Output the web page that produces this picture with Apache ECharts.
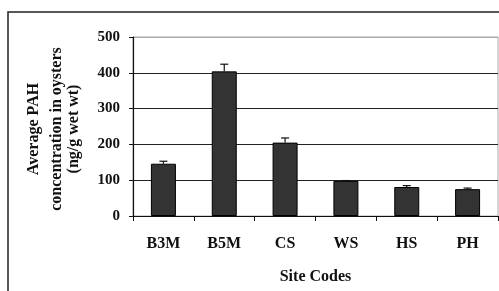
<!DOCTYPE html>
<html>
<head>
<meta charset="utf-8">
<script src="https://cdn.jsdelivr.net/npm/echarts@6/dist/echarts.min.js"></script>
<style>
  html, body { margin: 0; padding: 0; background: #fff; }
  #main { width: 499px; height: 291px; }
</style>
</head>
<body>
<div id="main"></div>
<script>
var sites = ['B3M', 'B5M', 'CS', 'WS', 'HS', 'PH'];
var pahMean = [146, 404, 205, 98, 81, 75];
var pahErr = [7, 20, 13, 1, 4, 3];
var yTicks = [0, 100, 200, 300, 400, 500];

var serif = '"Times New Roman", "Liberation Serif", serif';

var chart = echarts.init(document.getElementById('main'));

// error bars (upper half only, the lower half hides behind the bar)
function renderErr (params, api) {
    var x = api.value(0);
    var top = api.coord([x, api.value(1) + api.value(2)]);
    var base = api.coord([x, api.value(1)]);
    var cap = 4;
    var style = { stroke: '#111', lineWidth: 1.2 };
    return {
        type: 'group',
        children: [
            { type: 'line', shape: { x1: base[0], y1: base[1], x2: top[0], y2: top[1] }, style: style },
            { type: 'line', shape: { x1: top[0] - cap, y1: top[1], x2: top[0] + cap, y2: top[1] }, style: style }
        ]
    };
}

var option = {
    animation: false,
    grid: {
        left: 133, right: 1, top: 37, bottom: 75,
        show: true, borderColor: '#aaa', borderWidth: 1
    },
    xAxis: {
        type: 'category',
        data: sites,
        name: 'Site Codes',
        nameLocation: 'middle',
        nameGap: 53,
        nameTextStyle: { fontFamily: serif, fontWeight: 'bold', fontSize: 16, color: '#111' },
        axisLine: { lineStyle: { color: '#111', width: 1.2 } },
        axisTick: { show: true, length: 5, lineStyle: { color: '#111' } },
        axisLabel: { fontFamily: serif, fontWeight: 'bold', fontSize: 16, color: '#111', margin: 20 }
    },
    yAxis: {
        type: 'value',
        min: yTicks[0],
        max: yTicks[yTicks.length - 1],
        interval: 100,
        axisLine: { show: true, lineStyle: { color: '#111', width: 1.2 } },
        axisTick: { show: true, length: 4, lineStyle: { color: '#111' } },
        axisLabel: { fontFamily: serif, fontWeight: 'bold', fontSize: 15, color: '#111', margin: 13 },
        splitLine: { lineStyle: { color: ['#222', '#222', '#222', '#222', '#222', '#aaa'], width: 1.2 } }
    },
    graphic: [
        {
            type: 'rect',
            shape: { x: 8, y: 12, width: 700, height: 500 },
            style: { fill: 'none', stroke: '#222', lineWidth: 1.5 },
            silent: true
        },
        {
            type: 'group',
            x: 57, y: 129,
            rotation: Math.PI / 2,
            children: [
                { type: 'text', x: 0, y: -23, style: { text: 'Average PAH', font: 'bold 16px ' + serif, fill: '#111', align: 'center', verticalAlign: 'middle' } },
                { type: 'text', x: 0, y: 0, style: { text: 'concentration in oysters', font: 'bold 16px ' + serif, fill: '#111', align: 'center', verticalAlign: 'middle' } },
                { type: 'text', x: 0, y: 17, style: { text: '(ng/g wet wt)', font: 'bold 16px ' + serif, fill: '#111', align: 'center', verticalAlign: 'middle' } }
            ]
        }
    ],
    series: [
        {
            type: 'bar',
            data: pahMean,
            barWidth: 25,
            itemStyle: { color: '#333', borderColor: '#000', borderWidth: 1 }
        },
        {
            type: 'custom',
            renderItem: renderErr,
            data: sites.map(function (s, i) { return [i, pahMean[i], pahErr[i]]; }),
            z: 5
        }
    ]
};
chart.setOption(option);
</script>
</body>
</html>
